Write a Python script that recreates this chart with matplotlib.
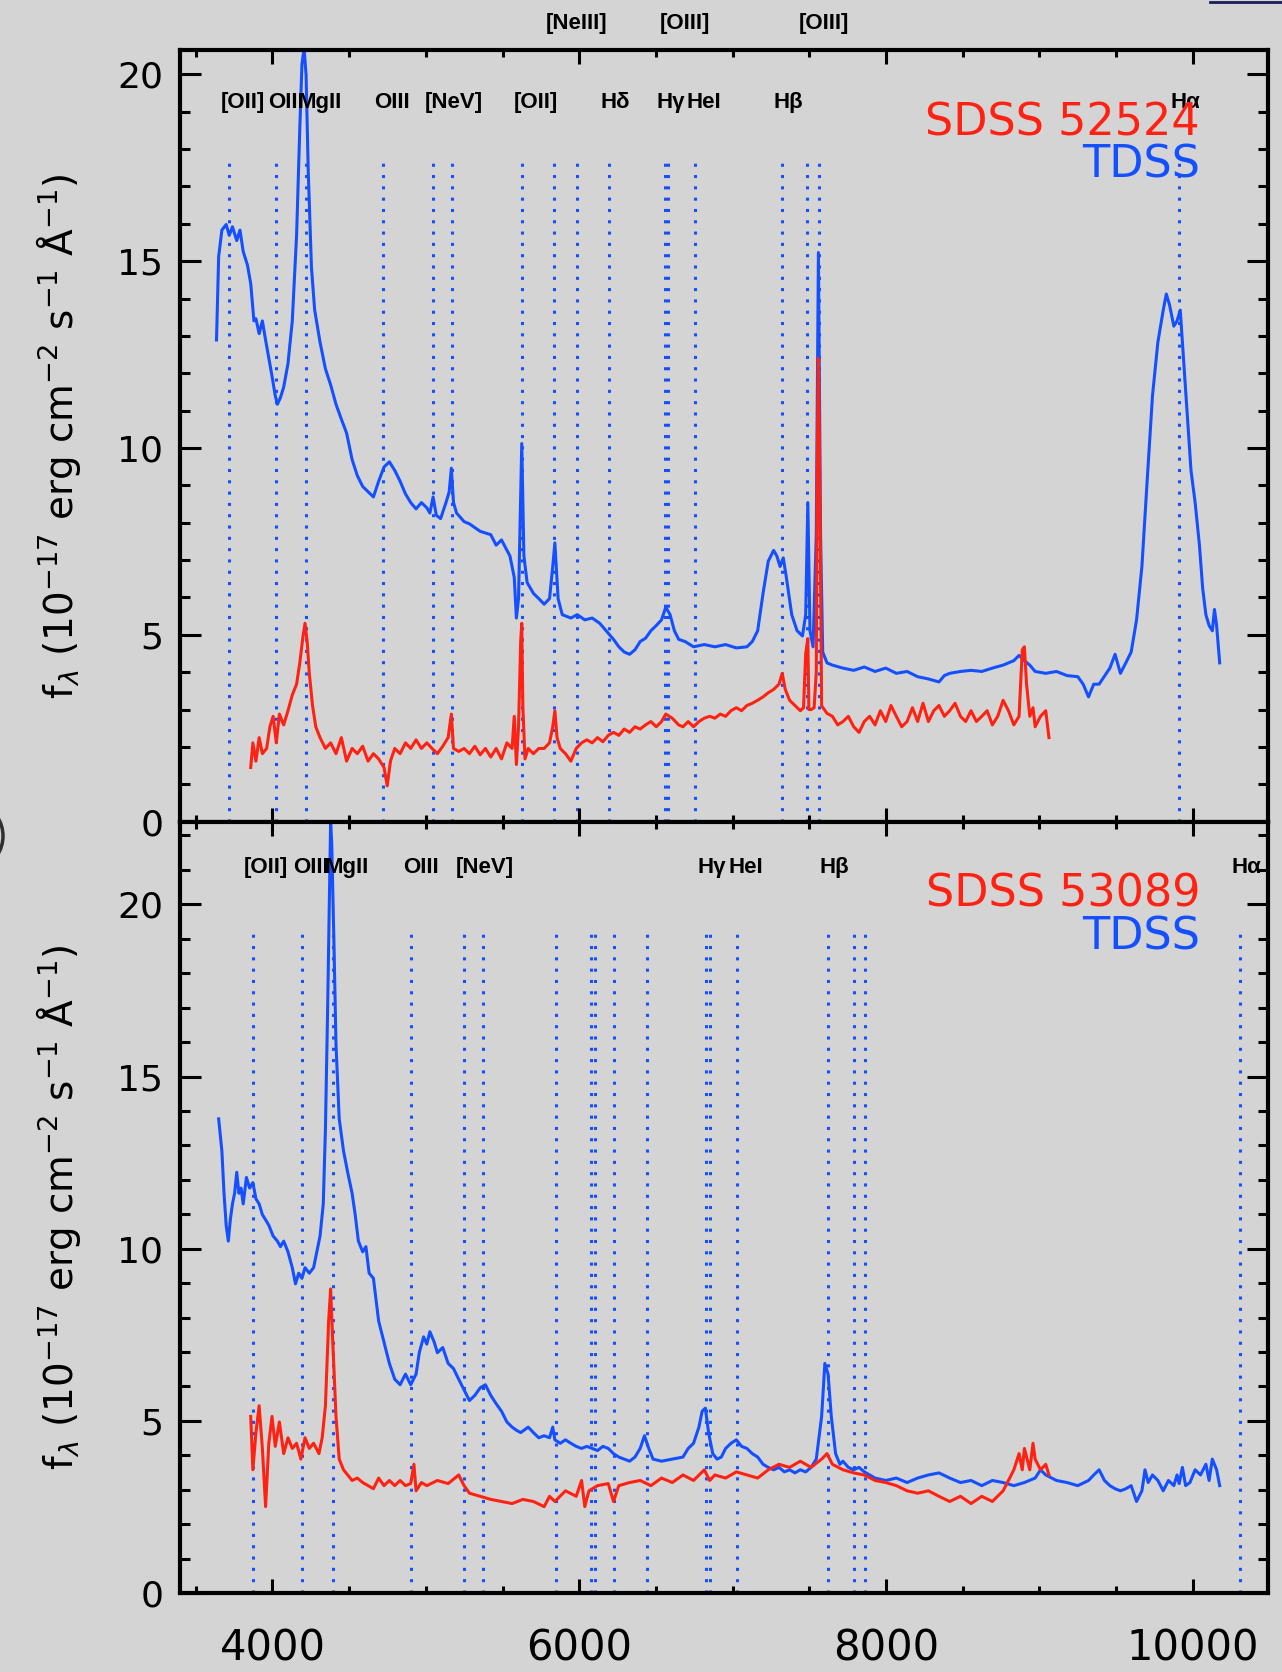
import matplotlib
matplotlib.use("Agg")
import matplotlib.pyplot as plt
import matplotlib.transforms as mtransforms
from matplotlib.lines import Line2D
from matplotlib.patches import Arc
from matplotlib.ticker import MultipleLocator

# --- cores e fundo ---
BG = "#d4d4d4"
BLUE = "#1450ff"
RED = "#ff2212"

# --- painel de cima (SDSS 52524 / TDSS) ---
top_tdss_wave = [3635, 3649, 3670, 3698, 3718, 3739, 3767, 3788, 3809, 3837, 3858, 3879, 3892, 3913, 3934,
                 3955, 3976, 3997, 4018, 4032, 4052, 4073, 4101, 4129, 4157, 4178, 4192, 4206, 4219, 4233,
                 4254, 4275, 4310, 4345, 4379, 4414, 4449, 4483, 4519, 4553, 4588, 4623, 4658, 4692, 4727,
                 4762, 4797, 4832, 4867, 4901, 4936, 4971, 5006, 5026, 5047, 5068, 5096, 5131, 5152, 5166,
                 5180, 5200, 5249, 5284, 5354, 5423, 5458, 5493, 5548, 5576, 5590, 5604, 5625, 5639, 5660,
                 5701, 5736, 5771, 5806, 5827, 5841, 5862, 5889, 5945, 5987, 6036, 6084, 6133, 6175, 6223,
                 6258, 6293, 6328, 6363, 6397, 6432, 6467, 6502, 6536, 6564, 6592, 6620, 6648, 6690, 6745,
                 6815, 6884, 6954, 7024, 7093, 7128, 7163, 7198, 7232, 7267, 7288, 7309, 7330, 7350, 7385,
                 7420, 7455, 7476, 7490, 7504, 7524, 7545, 7559, 7573, 7587, 7615, 7650, 7719, 7789, 7858,
                 7928, 7998, 8067, 8137, 8206, 8276, 8345, 8380, 8415, 8485, 8554, 8624, 8693, 8763, 8833,
                 8867, 8902, 8937, 8972, 9041, 9111, 9180, 9250, 9285, 9320, 9354, 9389, 9459, 9493, 9528,
                 9563, 9598, 9633, 9668, 9702, 9737, 9772, 9807, 9827, 9848, 9876, 9897, 9918, 9932, 9960,
                 9988, 10015, 10043, 10064, 10085, 10106, 10127, 10141, 10155, 10175]
top_tdss_flux = [12.89, 15.12, 15.83, 15.98, 15.69, 15.92, 15.55, 15.83, 15.26, 14.89, 14.40, 13.40, 13.46, 13.06, 13.40,
                 12.89, 12.40, 11.92, 11.40, 11.17, 11.35, 11.63, 12.26, 13.40, 15.69, 18.55, 20.27, 20.70, 19.98, 17.41,
                 14.83, 13.69, 12.83, 12.12, 11.69, 11.17, 10.77, 10.40, 9.69, 9.26, 8.97, 8.83, 8.69, 9.11, 9.49,
                 9.63, 9.40, 9.11, 8.77, 8.54, 8.37, 8.54, 8.40, 8.26, 8.69, 8.20, 8.11, 8.54, 8.83, 9.46,
                 8.54, 8.26, 8.03, 7.97, 7.77, 7.68, 7.40, 7.54, 7.11, 6.54, 5.45, 5.97, 10.12, 7.11, 6.40,
                 6.11, 5.97, 5.82, 5.97, 6.83, 7.46, 5.97, 5.54, 5.45, 5.54, 5.40, 5.45, 5.31, 5.11, 4.88,
                 4.68, 4.54, 4.48, 4.60, 4.82, 4.91, 5.11, 5.25, 5.40, 5.74, 5.54, 5.11, 4.88, 4.82, 4.68,
                 4.74, 4.68, 4.74, 4.65, 4.68, 4.82, 5.11, 6.11, 6.97, 7.26, 7.11, 6.83, 7.06, 6.54, 5.54,
                 5.11, 4.97, 5.54, 8.54, 5.11, 4.68, 7.68, 15.23, 7.68, 4.54, 4.25, 4.19, 4.11, 4.05, 4.14,
                 4.02, 4.11, 3.97, 4.02, 3.88, 3.82, 3.74, 3.91, 3.97, 4.02, 4.05, 4.02, 4.11, 4.19, 4.31,
                 4.45, 4.31, 4.19, 4.02, 3.97, 4.02, 3.91, 3.88, 3.68, 3.34, 3.68, 3.68, 4.11, 4.48, 3.97,
                 4.25, 4.54, 5.40, 6.83, 9.11, 11.40, 12.83, 13.69, 14.12, 13.83, 13.26, 13.40, 13.69, 12.83, 11.12,
                 9.40, 8.54, 7.40, 6.25, 5.54, 5.25, 5.11, 5.68, 5.25, 4.25]

top_sdss_wave = [3858, 3872, 3892, 3913, 3934, 3962, 3983, 4004, 4025, 4045, 4073, 4101, 4129, 4157, 4178,
                 4199, 4212, 4226, 4240, 4261, 4282, 4310, 4345, 4379, 4414, 4449, 4483, 4519, 4553, 4588,
                 4623, 4658, 4692, 4727, 4748, 4769, 4797, 4832, 4867, 4901, 4936, 4971, 5006, 5040, 5075,
                 5110, 5145, 5166, 5180, 5214, 5249, 5284, 5319, 5354, 5388, 5423, 5458, 5493, 5528, 5562,
                 5576, 5590, 5604, 5618, 5625, 5632, 5646, 5667, 5701, 5736, 5771, 5806, 5827, 5841, 5855,
                 5876, 5910, 5945, 5980, 6015, 6049, 6084, 6119, 6154, 6189, 6223, 6258, 6293, 6328, 6363,
                 6397, 6432, 6467, 6502, 6536, 6564, 6606, 6648, 6676, 6710, 6745, 6780, 6815, 6850, 6884,
                 6919, 6954, 6989, 7024, 7058, 7093, 7128, 7163, 7198, 7232, 7267, 7302, 7323, 7343, 7371,
                 7406, 7441, 7462, 7476, 7490, 7497, 7511, 7531, 7545, 7552, 7559, 7566, 7580, 7615, 7650,
                 7685, 7719, 7754, 7789, 7824, 7858, 7893, 7928, 7963, 7998, 8032, 8067, 8102, 8137, 8172,
                 8206, 8241, 8276, 8311, 8345, 8380, 8415, 8450, 8485, 8519, 8554, 8589, 8624, 8659, 8693,
                 8728, 8763, 8798, 8833, 8867, 8888, 8902, 8916, 8937, 8958, 8972, 9007, 9041, 9062]
top_sdss_flux = [1.45, 2.11, 1.62, 2.25, 1.82, 1.96, 2.54, 2.82, 2.11, 2.88, 2.59, 2.97, 3.39, 3.68, 4.25,
                 4.97, 5.31, 4.82, 3.97, 3.11, 2.54, 2.25, 1.96, 2.11, 1.82, 2.25, 1.62, 1.96, 1.82, 2.02,
                 1.62, 1.82, 1.68, 1.45, 0.96, 1.62, 1.96, 1.82, 2.11, 1.96, 2.19, 1.96, 2.11, 1.96, 1.82,
                 2.02, 2.25, 2.88, 1.96, 1.88, 1.96, 1.82, 2.02, 1.79, 1.96, 1.73, 1.96, 1.68, 2.11, 1.96,
                 2.82, 1.53, 2.54, 4.82, 5.31, 3.11, 1.68, 1.96, 1.82, 1.96, 1.96, 2.11, 2.54, 2.97, 2.25,
                 1.96, 1.82, 1.62, 1.96, 2.11, 2.19, 2.11, 2.25, 2.14, 2.31, 2.39, 2.31, 2.48, 2.39, 2.54,
                 2.48, 2.59, 2.68, 2.54, 2.68, 2.88, 2.77, 2.59, 2.54, 2.68, 2.54, 2.68, 2.77, 2.82, 2.77,
                 2.88, 2.82, 2.97, 3.05, 2.97, 3.11, 3.17, 3.25, 3.34, 3.45, 3.54, 3.68, 3.97, 3.54, 3.25,
                 3.11, 2.97, 3.05, 4.50, 4.90, 3.00, 3.00, 3.05, 4.00, 10.00, 12.40, 10.00, 3.10, 2.90, 2.82,
                 2.59, 2.68, 2.82, 2.54, 2.39, 2.68, 2.82, 2.59, 2.97, 2.68, 3.11, 2.82, 2.54, 2.68, 3.05,
                 2.68, 3.17, 2.68, 2.97, 3.11, 2.82, 2.97, 3.17, 2.82, 2.68, 2.97, 2.68, 2.82, 2.97, 2.59,
                 2.82, 3.25, 2.97, 2.59, 2.82, 4.60, 4.68, 3.68, 2.82, 3.05, 2.54, 2.82, 2.97, 2.25]

# --- painel de baixo (SDSS 53089 / TDSS) ---
bot_tdss_wave = [3649, 3670, 3684, 3698, 3712, 3725, 3739, 3753, 3767, 3781, 3795, 3809, 3830, 3851, 3872,
                 3892, 3913, 3934, 3955, 3976, 4004, 4032, 4052, 4073, 4101, 4129, 4150, 4171, 4192, 4212,
                 4240, 4268, 4289, 4310, 4331, 4345, 4359, 4373, 4379, 4386, 4400, 4414, 4435, 4463, 4490,
                 4519, 4539, 4560, 4588, 4609, 4630, 4658, 4679, 4692, 4727, 4762, 4797, 4832, 4867, 4901,
                 4936, 4957, 4985, 5006, 5026, 5054, 5075, 5110, 5145, 5180, 5214, 5249, 5284, 5319, 5354,
                 5388, 5423, 5458, 5493, 5528, 5562, 5590, 5618, 5667, 5701, 5736, 5771, 5806, 5827, 5841,
                 5876, 5910, 5945, 5980, 6015, 6049, 6084, 6119, 6154, 6189, 6223, 6258, 6293, 6328, 6363,
                 6397, 6425, 6453, 6481, 6536, 6606, 6676, 6710, 6745, 6780, 6801, 6822, 6843, 6870, 6898,
                 6926, 6954, 6989, 7024, 7058, 7093, 7128, 7163, 7198, 7232, 7267, 7302, 7337, 7371, 7406,
                 7441, 7476, 7511, 7545, 7580, 7601, 7622, 7643, 7671, 7699, 7719, 7754, 7789, 7824, 7858,
                 7893, 7928, 7998, 8067, 8137, 8206, 8276, 8345, 8415, 8485, 8554, 8624, 8693, 8763, 8833,
                 8902, 8972, 9007, 9041, 9111, 9180, 9250, 9320, 9354, 9389, 9424, 9459, 9493, 9528, 9563,
                 9598, 9633, 9668, 9688, 9709, 9737, 9772, 9807, 9841, 9876, 9897, 9911, 9932, 9953, 9981,
                 10015, 10050, 10085, 10106, 10127, 10155, 10175]
bot_tdss_flux = [13.77, 12.84, 11.61, 10.68, 10.22, 10.84, 11.30, 11.61, 12.22, 11.61, 11.76, 11.30, 12.07, 11.76, 11.92,
                 11.45, 11.30, 10.99, 10.84, 10.68, 10.37, 10.22, 10.06, 10.22, 9.91, 9.45, 8.98, 9.29, 9.14, 9.45,
                 9.29, 9.45, 9.91, 10.37, 11.30, 13.46, 16.85, 20.86, 22.41, 21.79, 19.01, 15.93, 13.77, 12.84, 12.22,
                 11.61, 10.99, 10.22, 9.91, 10.06, 9.29, 9.14, 8.37, 7.90, 7.29, 6.67, 6.21, 6.05, 6.36, 6.05,
                 6.36, 6.98, 7.44, 7.23, 7.59, 7.29, 6.98, 7.13, 6.67, 6.52, 6.21, 5.90, 5.59, 5.74, 5.96,
                 6.05, 5.74, 5.50, 5.28, 4.97, 4.82, 4.73, 4.66, 4.82, 4.66, 4.51, 4.57, 4.51, 4.82, 4.45,
                 4.35, 4.45, 4.35, 4.26, 4.20, 4.26, 4.20, 4.14, 4.26, 4.20, 4.05, 3.95, 3.89, 3.83, 3.95,
                 4.20, 4.57, 4.20, 3.89, 3.83, 3.89, 3.95, 4.20, 4.35, 4.82, 5.28, 5.37, 4.66, 4.05, 3.89,
                 3.95, 4.20, 4.35, 4.45, 4.26, 4.20, 4.05, 3.95, 3.74, 3.65, 3.58, 3.65, 3.52, 3.58, 3.49,
                 3.58, 3.52, 3.65, 3.89, 5.13, 6.67, 6.36, 5.13, 4.05, 3.74, 3.83, 3.65, 3.58, 3.65, 3.52,
                 3.43, 3.34, 3.27, 3.34, 3.21, 3.34, 3.43, 3.49, 3.34, 3.21, 3.27, 3.12, 3.27, 3.21, 3.12,
                 3.21, 3.34, 3.58, 3.43, 3.27, 3.21, 3.12, 3.27, 3.43, 3.58, 3.27, 3.12, 3.03, 2.97, 3.03,
                 3.12, 2.66, 2.97, 3.58, 3.21, 3.43, 3.27, 2.97, 3.27, 3.12, 3.43, 3.18, 3.65, 3.12, 3.21,
                 3.58, 3.43, 3.74, 3.27, 3.89, 3.58, 3.12]

bot_sdss_wave = [3858, 3872, 3892, 3913, 3934, 3955, 3976, 3997, 4018, 4045, 4073, 4101, 4129, 4157, 4185,
                 4212, 4240, 4268, 4303, 4324, 4345, 4366, 4379, 4393, 4414, 4435, 4463, 4490, 4519, 4553,
                 4588, 4623, 4658, 4692, 4727, 4762, 4797, 4832, 4867, 4901, 4922, 4936, 4971, 5006, 5075,
                 5145, 5214, 5249, 5284, 5354, 5423, 5493, 5562, 5632, 5701, 5771, 5806, 5841, 5910, 5980,
                 6015, 6036, 6063, 6119, 6189, 6223, 6258, 6328, 6397, 6467, 6536, 6606, 6676, 6745, 6815,
                 6850, 6884, 6954, 7024, 7093, 7163, 7232, 7302, 7371, 7441, 7511, 7580, 7615, 7650, 7719,
                 7789, 7858, 7928, 7998, 8067, 8137, 8206, 8276, 8345, 8415, 8485, 8554, 8624, 8693, 8763,
                 8798, 8833, 8867, 8888, 8902, 8937, 8958, 8972, 9007, 9041, 9062]
bot_sdss_flux = [5.13, 3.58, 4.66, 5.44, 4.20, 2.51, 4.35, 5.13, 4.26, 4.97, 4.05, 4.51, 4.20, 4.35, 3.89,
                 4.51, 4.20, 4.35, 4.05, 4.51, 5.44, 7.90, 8.83, 7.29, 5.13, 3.89, 3.58, 3.43, 3.27, 3.34,
                 3.21, 3.12, 3.03, 3.34, 3.12, 3.27, 3.12, 3.27, 3.12, 3.18, 3.74, 2.97, 3.21, 3.12, 3.27,
                 3.18, 3.43, 3.12, 2.90, 2.81, 2.72, 2.66, 2.60, 2.72, 2.66, 2.51, 2.81, 2.66, 2.97, 2.81,
                 3.27, 2.51, 2.97, 3.12, 3.18, 2.66, 3.12, 3.21, 3.27, 3.12, 3.34, 3.21, 3.43, 3.27, 3.58,
                 3.27, 3.43, 3.34, 3.52, 3.43, 3.34, 3.58, 3.74, 3.65, 3.83, 3.65, 3.89, 4.05, 3.74, 3.58,
                 3.49, 3.43, 3.27, 3.21, 3.12, 2.97, 2.90, 2.97, 2.81, 2.66, 2.81, 2.60, 2.81, 2.66, 2.97,
                 3.27, 3.58, 4.05, 3.58, 4.20, 3.58, 4.35, 3.89, 3.58, 3.74, 3.43]

# --- linhas de emissao (comprimento de onda observado, rotulo, fileira) ---
top_line_wave = [3717, 4025, 4221, 4718, 5048, 5167, 5626, 5838, 5987, 6192, 6558, 6581, 6756, 7321, 7485, 7562, 9912]
top_line_label = ["[OII]", "OIII", "MgII", "OIII", "[NeV]", "", "[OII]", "[NeIII]", "", "Hδ",
                  "Hγ", "[OIII]", "HeI", "Hβ", "[OIII]", "", "Hα"]
top_line_row = [0, 0, 0, 0, 0, 0, 0, 1, 0, 0, 0, 1, 0, 0, 1, 0, 0]

bot_line_wave = [3871, 4193, 4394, 4906, 5249, 5374, 5847, 6076, 6104, 6228, 6442, 6826, 6849, 7029, 7620, 7789, 7864, 10309]
bot_line_label = ["[OII]", "OIII", "MgII", "OIII", "[NeV]", "", "", "", "", "", "",
                  "Hγ", "", "HeI", "Hβ", "", "", "Hα"]

panels = [
    dict(tdss=(top_tdss_wave, top_tdss_flux), sdss=(top_sdss_wave, top_sdss_flux),
         lines=top_line_wave, labels=top_line_label, rows=top_line_row,
         ylim=(0, 20.65), mjd="SDSS 52524", row_y=0.932),
    dict(tdss=(bot_tdss_wave, bot_tdss_flux), sdss=(bot_sdss_wave, bot_sdss_flux),
         lines=bot_line_wave, labels=bot_line_label, rows=[0] * len(bot_line_wave),
         ylim=(0, 22.4), mjd="SDSS 53089", row_y=0.940),
]

fig = plt.figure(figsize=(12.82, 16.72), dpi=100, facecolor=BG)
L, R = 180 / 1282, 1268 / 1282
mid = 1 - 821.7 / 1672
axes = [fig.add_axes([L, mid, R - L, 0.9701 - mid]),
        fig.add_axes([L, 0.0472, R - L, mid - 0.0472])]

ylab = r"f$_\lambda$ (10$^{-17}$ erg cm$^{-2}$ s$^{-1}$ $\mathrm{\AA}^{-1}$)"
label_font = ["Liberation Sans", "DejaVu Sans"]

for i, (ax, p) in enumerate(zip(axes, panels)):
    ax.set_facecolor(BG)

    # linhas verticais pontilhadas
    for w in p["lines"]:
        ax.axvline(w, ymin=0, ymax=0.86, color=BLUE, lw=2.2, ls=(0, (1, 2.7)), zorder=1)

    ax.plot(*p["tdss"], color=BLUE, lw=2.2, zorder=2)
    ax.plot(*p["sdss"], color=RED, lw=2.2, zorder=3)

    ax.set_xlim(3397, 10490)
    ax.set_ylim(*p["ylim"])

    # rotulos das linhas
    trans = mtransforms.offset_copy(ax.get_xaxis_transform(), fig=fig, x=-8.5, y=0, units="dots")
    yrow = [p["row_y"], 1.034]
    for w, lab, row in zip(p["lines"], p["labels"], p["rows"]):
        if lab:
            ax.text(w, yrow[row], lab, transform=trans, ha="left", va="center",
                    fontsize=16, fontweight="bold", family=label_font, color="black", clip_on=False)

    ax.text(0.9375, 0.906, p["mjd"], transform=ax.transAxes, ha="right", va="center",
            fontsize=32, color=RED)
    ax.text(0.9375, 0.851, "TDSS", transform=ax.transAxes, ha="right", va="center",
            fontsize=32, color=BLUE)

    ax.xaxis.set_major_locator(MultipleLocator(2000))
    ax.xaxis.set_minor_locator(MultipleLocator(500))
    ax.yaxis.set_major_locator(MultipleLocator(5))
    ax.yaxis.set_minor_locator(MultipleLocator(1))
    ax.tick_params(which="both", direction="in", top=True, right=True, width=2.2, color="black")
    ax.tick_params(axis="x", which="major", length=10, labelsize=30, pad=25)
    ax.tick_params(axis="x", which="minor", length=5)
    ax.tick_params(axis="y", which="major", length=15, labelsize=26, pad=12)
    ax.tick_params(axis="y", which="minor", length=7)
    if i == 0:
        ax.tick_params(axis="x", labelbottom=False)
    for s in ax.spines.values():
        s.set_linewidth(3)

    ax.set_ylabel(ylab, fontsize=28)
    ax.yaxis.set_label_coords(-0.089, 0.5)

# restos do recorte original (borda azul escura no canto e arco na esquerda)
fig.add_artist(Line2D([1210 / 1282, 1.0], [1 - 1.5 / 1672] * 2, transform=fig.transFigure,
                      color="#1c1c5a", lw=2))
fig.add_artist(Arc((-22, 1672 - 836), 50, 60, theta1=-45, theta2=45, transform=None,
                   color="#303030", lw=2.5))

fig.savefig("out.png", dpi=100, facecolor=BG)
